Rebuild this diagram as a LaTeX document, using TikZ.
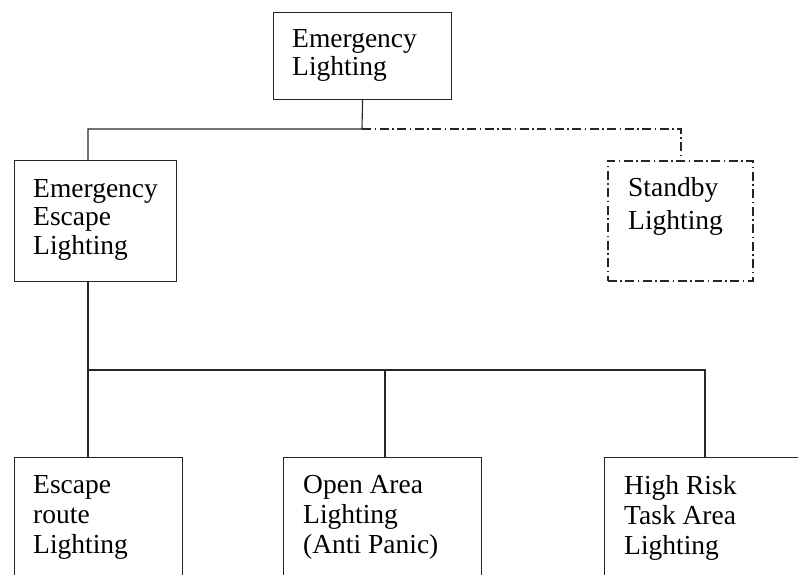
\documentclass[tikz,border=0pt]{standalone}
\usepackage{fontspec}
\setmainfont{Liberation Serif}
\begin{document}
\begin{tikzpicture}[x=1pt,y=-1pt,
  box/.style={draw=black!85, line width=1.1pt, anchor=north west, inner sep=0pt, rectangle},
  dbox/.style={box, line width=1.6pt, dash pattern=on 9pt off 3.5pt on 1.5pt off 3.5pt},
  conn/.style={draw=black!85, line width=1.1pt},
  ddash/.style={draw=black!85, line width=1.6pt, dash pattern=on 9pt off 3.5pt on 1.5pt off 3.5pt},
  lbl/.style={anchor=north west, inner sep=0pt, align=left, text=black, font=\fontsize{27.5}{28}\selectfont}]
\useasboundingbox (0,0) rectangle (798,575);
\clip (0,0) rectangle (798,575);
% boxes
\node[box, minimum width=178pt, minimum height=87pt] (top) at (273,12) {};
\node[box, minimum width=162pt, minimum height=121pt] (eel) at (14,160) {};
\node[dbox, minimum width=145pt, minimum height=120pt] (sb) at (607,160) {};
\node[box, minimum width=168pt, minimum height=140pt] (b1) at (14,457) {};
\node[box, minimum width=198pt, minimum height=140pt] (b2) at (283,457) {};
\node[box, minimum width=220pt, minimum height=140pt] (b3) at (604,457) {};
% texts
\node[lbl] (ttop) at (292,29) {Emergency\\Lighting};
\node[lbl, font=\fontsize{27.5}{28.5}\selectfont] (teel) at (33,179) {Emergency\\Escape\\Lighting};
\node[lbl, font=\fontsize{27.5}{33}\selectfont] (tsb) at (628,177) {Standby\\Lighting};
\node[lbl, font=\fontsize{27.5}{30}\selectfont] (tb1) at (33,475) {Escape\\route\\Lighting};
\node[lbl, font=\fontsize{27.5}{30}\selectfont] (tb2) at (303,475) {Open Area\\Lighting\\(Anti Panic)};
\node[lbl, font=\fontsize{27.5}{30}\selectfont] (tb3) at (624,475) {High Risk\\Task Area\\Lighting};
% junctions
\coordinate (jt) at (362,129);
\coordinate (jl) at (88,129);
\coordinate (jr) at (681,129);
\coordinate (jb) at (88,370);
\coordinate (jm) at (385,370);
\coordinate (jrr) at (705,370);
% connectors
\draw[conn] (top.south) -- (jt) -- (jl) -- (eel.north -| jl);
\draw[ddash] (jt) -- (jr) -- (sb.north -| jr);
\draw[conn] (eel.south -| jb) -- (jb) -- (b1.north -| jb);
\draw[conn] (jb) -- (jrr) -- (b3.north -| jrr);
\draw[conn] (jm) -- (b2.north -| jm);
\end{tikzpicture}
\end{document}
